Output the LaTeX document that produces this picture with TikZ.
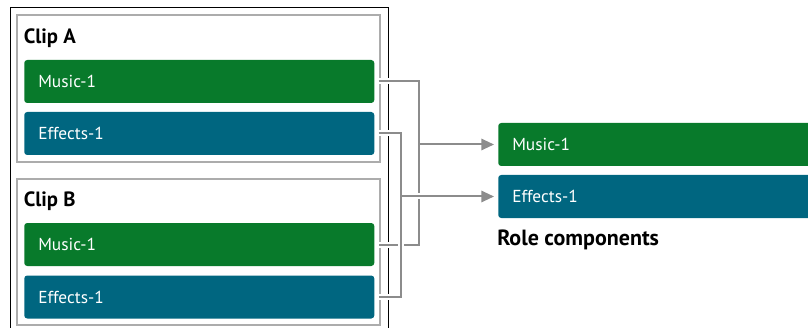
\documentclass[tikz,border=0pt]{standalone}
\usepackage{fontspec}
\setmainfont{PT Sans}
\usetikzlibrary{arrows.meta}
\definecolor{roleGreen}{RGB}{8,122,43}
\definecolor{roleBlue}{RGB}{0,102,128}
\definecolor{wireGray}{RGB}{140,140,140}
\definecolor{boxGray}{RGB}{172,172,172}
\tikzset{
  rolebar/.style={rounded corners=2.25pt, minimum height=32.25pt, inner xsep=10.5pt,
    text width=241.5pt, align=left, text=white, anchor=west,
    font=\fontsize{13}{15}\selectfont},
  musicbar/.style={rolebar, fill=roleGreen},
  effectsbar/.style={rolebar, fill=roleBlue},
  cliplabel/.style={inner sep=0pt, anchor=base west, font=\bfseries\fontsize{15.5}{18}\selectfont},
  wire/.style={draw=wireGray, line width=1.5pt,
    preaction={draw=white, line width=4.5pt}},
  wirearrow/.style={draw=wireGray, line width=1.5pt, -{Triangle[length=9.5pt,width=8.5pt]},
    preaction={draw=white, line width=4.5pt, -, shorten <=3pt}},
}
\begin{document}
\begin{tikzpicture}[x=0.75pt,y=0.75pt,yscale=-1]
\useasboundingbox (0,0) rectangle (808,328);
\clip (0,0) rectangle (808,328);

%Shape: Rectangle [outer frame]
\draw [line width=0.75pt] (10,8) rectangle (388,345);
%Shape: Rectangle [clip A]
\draw [boxGray, line width=0.9pt] (17,15) rectangle (380,162);
%Shape: Rectangle [clip B]
\draw [boxGray, line width=0.9pt] (17,179) rectangle (380,325);

% Text Node
\node [cliplabel] (clipA) at (23.5,44) {Clip A};
\node [cliplabel] (clipB) at (23.5,207) {Clip B};
\node [cliplabel, font=\bfseries\fontsize{16.5}{19}\selectfont] (roles) at (497,245) {Role components};

% Bars
\node [musicbar] (musicA) at (24,81.5) {Music-1};
\node [effectsbar] (effectsA) at (24,133.5) {Effects-1};
\node [musicbar] (musicB) at (24,244.5) {Music-1};
\node [effectsbar] (effectsB) at (24,297) {Effects-1};
\node [musicbar] (musicR) at (498,144.5) {Music-1};
\node [effectsbar] (effectsR) at (498,196.5) {Effects-1};

% Junctions
\coordinate (jMusic) at (419,144.5);
\coordinate (jEffects) at (401,196.5);

% Connectors
\draw [wire] ([xshift=3]musicA.east) -| (jMusic) |- ([xshift=3]musicB.east);
\draw [wirearrow] (jMusic) -- ([xshift=-3]musicR.west);
\draw [wire] ([xshift=3]effectsA.east) -| (jEffects) |- ([xshift=3]effectsB.east);
\draw [wirearrow] (jEffects) -- ([xshift=-3]effectsR.west);

\end{tikzpicture}
\end{document}
